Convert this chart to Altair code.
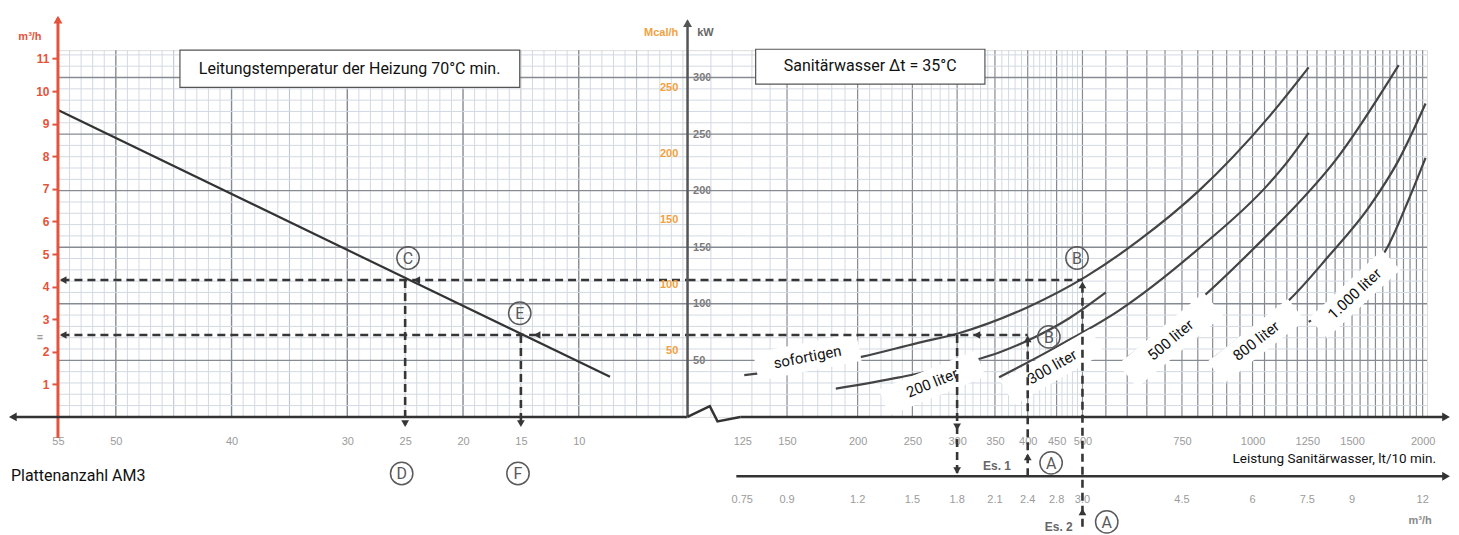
import altair as alt
import pandas as pd

# ---------------- axis tick values / labels ----------------
plate_ticks = [55, 50, 40, 30, 25, 20, 15, 10]
m3_ticks = [1, 2, 3, 4, 5, 6, 7, 8, 9, 10, 11]
kw_ticks = [50, 100, 150, 200, 250, 300]
mcal_ticks = [50, 100, 150, 200, 250]
lt_ticks = [125, 150, 200, 250, 300, 350, 400, 450, 500, 750, 1000, 1250, 1500, 2000]
m3h_tick_labels = ["0.75", "0.9", "1.2", "1.5", "1.8", "2.1", "2.4", "2.8", "3.0",
                   "4.5", "6", "7.5", "9", "12"]

# ---------------- left panel: heating flow vs. number of plates ----------------
heiz_plates = [55, 7.3]
heiz_m3h = [9.42, 1.23]

# ---------------- right panel: power curves (lt/10 min vs kW) ----------------
curve_names = ["sofortigen", "200 liter", "300 liter", "500 liter", "800 liter", "1.000 liter"]
sof_lt = [126, 158, 203, 254, 302, 400, 507, 629, 804, 1068, 1257]
sof_kw = [37, 43, 53, 65, 74, 97, 124, 156, 200, 265, 309]
l200_lt = [183, 237, 294, 356, 402, 473, 550]
l200_kw = [25, 35, 45, 57, 68, 87, 110]
l300_lt = [356, 454, 580, 804, 1068, 1159, 1257]
l300_kw = [35, 63, 94, 149, 206, 227, 251]
l500_lt = [599, 804, 1068, 1159, 1403, 1814]
l500_kw = [52, 103, 162, 180, 227, 311]
l800_lt = [854, 994, 1159, 1363, 1605, 1814, 2024]
l800_kw = [52, 77, 103, 142, 185, 227, 277]
l1000_lt = [1257, 1480, 1741, 1889, 2024]
l1000_kw = [84, 110, 152, 192, 229]

# ---------------- worked examples ----------------
ex_kw = [121, 72.4]        # power levels of B and B'
ex_plates = [25, 15]       # D and F
ex_lt = [300, 400, 500]

# ---------------- style ----------------
FONT = "Roboto"
AXFONT = "Liberation Sans"
RED = "#e4533b"
ORANGE = "#f2a13e"
DARK = "#363636"
MINC = "#d3d9e2"
MIDC = "#bac1cb"
MAJC = "#868b93"
CIRC = "#5a5a5a"
LEFT_W, RIGHT_W, H = 630, 740, 367

pS = alt.Scale(domain=[0.6, 55], reverse=True, nice=False, zero=False)
mS = alt.Scale(domain=[0, 11.26], nice=False, zero=False)
kS = alt.Scale(domain=[0, 324.2], nice=False, zero=False)
lS = alt.Scale(type="log", domain=[100, 2036], nice=False)

LXA = alt.Axis(values=plate_ticks, domain=False, ticks=False, grid=False, labelPadding=19,
               labelColor="#9b9b9b", labelFontSize=11, labelFont=AXFONT, title=None,
               labelFlush=False, labelOverlap=False)
REDA = alt.Axis(values=m3_ticks, domain=False, ticks=True, tickColor=RED, tickWidth=2, tickSize=6,
                labelColor=RED, labelFontWeight="bold", labelFontSize=12, labelPadding=3,
                labelFont=AXFONT, grid=False, title=None)
RXA = alt.Axis(values=lt_ticks, format="d", domain=False, ticks=False, grid=False, labelPadding=19,
               labelColor="#9b9b9b", labelFontSize=11, labelFont=AXFONT, title=None,
               labelFlush=False, labelOverlap=False)
RYA = alt.Axis(values=kw_ticks, domain=False, ticks=False, tickSize=0, grid=False, labelAlign="left",
               labelPadding=-5, labelColor="#7a7a7a", labelFontSize=11, labelFontWeight="bold",
               labelFont=AXFONT, title=None)


def PX(f):
    return alt.X(f, type="quantitative", scale=pS, axis=LXA)


def MY(f, axis=None):
    return alt.Y(f, type="quantitative", scale=mS, axis=axis)


def KY(f):
    return alt.Y(f, type="quantitative", scale=kS, axis=None)


def LX(f):
    return alt.X(f, type="quantitative", scale=lS, axis=RXA)


def RY(f):
    return alt.Y(f, type="quantitative", scale=kS, axis=RYA)


def D(**cols):
    return pd.DataFrame(cols)


# =============================== LEFT PANEL ===============================
plates_all = list(range(1, 56))
kw_all = list(range(10, 330, 10))

L = []
L.append(alt.Chart(D(p=[p for p in plates_all if p % 5])).mark_rule(color=MINC, strokeWidth=1).encode(x=PX("p")))
L.append(alt.Chart(D(p=[p for p in plates_all if p % 5 == 0 and p % 10])).mark_rule(color=MIDC, strokeWidth=1).encode(x=PX("p")))
L.append(alt.Chart(D(p=[p for p in plates_all if p % 10 == 0])).mark_rule(color=MAJC, strokeWidth=1.4).encode(x=PX("p")))
L.append(alt.Chart(D(k=[k for k in kw_all if k % 50])).mark_rule(color=MINC, strokeWidth=1).encode(y=KY("k")))
L.append(alt.Chart(D(k=kw_ticks)).mark_rule(color=MAJC, strokeWidth=1.4).encode(y=KY("k")))

# title box
L.append(alt.Chart(D(x=[44.46], x2=[15.1], y=[11.26], y2=[10.12])).mark_rect(
    fill="white", stroke="#555", strokeWidth=1.2).encode(x=PX("x"), x2="x2", y=MY("y"), y2="y2"))
L.append(alt.Chart(D(x=[29.8], y=[10.69], t=["Leitungstemperatur der Heizung 70°C min."])).mark_text(
    font=FONT, fontSize=16, color="#111").encode(x=PX("x"), y=MY("y"), text="t:N"))

# heating line (carries the red m3/h axis)
L.append(alt.Chart(D(p=heiz_plates, m=heiz_m3h)).mark_line(color="#333", strokeWidth=2.2).encode(
    x=PX("p"), y=MY("m", REDA)))

# red vertical axis with arrow
L.append(alt.Chart(D(x=[55], y=[-0.65], y2=[12.25])).mark_rule(color=RED, strokeWidth=3).encode(
    x=PX("x"), y=MY("y"), y2="y2"))
L.append(alt.Chart(D(x=[55], y=[12.2])).mark_point(shape="triangle-up", filled=True, size=80, color=RED,
                                                     opacity=1).encode(x=PX("x"), y=MY("y")))
L.append(alt.Chart(D(x=[57.42], y=[11.66], t=["m³/h"])).mark_text(
    font=AXFONT, fontSize=11, fontWeight="bold", color=RED).encode(x=PX("x"), y=MY("y"), text="t:N"))

# horizontal base axis with arrow to the left
L.append(alt.Chart(D(x=[58.7], x2=[0.6], y=[0])).mark_rule(color="#333", strokeWidth=2.5).encode(
    x=PX("x"), x2="x2", y=KY("y")))
L.append(alt.Chart(D(x=[58.9], y=[0])).mark_point(shape="triangle-left", filled=True, size=80, color="#333",
                                                    opacity=1).encode(x=PX("x"), y=KY("y")))

# dashed reading lines
L.append(alt.Chart(D(x=[54.7, 54.7], x2=[0.6, 0.6], y=ex_kw)).mark_rule(
    color=DARK, strokeWidth=2.6, strokeDash=[8, 5]).encode(x=PX("x"), x2="x2", y=KY("y")))
L.append(alt.Chart(D(x=ex_plates, y=ex_kw, y2=[-7, -7])).mark_rule(
    color=DARK, strokeWidth=2.6, strokeDash=[8, 5]).encode(x=PX("x"), y=KY("y"), y2="y2"))
L.append(alt.Chart(D(x=[24.0, 54.55, 13.6, 54.55], y=[121, 121, 72.4, 72.4])).mark_point(
    shape="triangle-left", filled=True, size=60, color=DARK, opacity=1).encode(x=PX("x"), y=KY("y")))
L.append(alt.Chart(D(x=ex_plates, y=[-6, -6])).mark_point(
    shape="triangle-down", filled=True, size=60, color=DARK, opacity=1).encode(x=PX("x"), y=KY("y")))
L.append(alt.Chart(D(x=[56.55], y=[70.7], t=["="])).mark_text(
    fontSize=12, fontWeight="bold", color="#9a9a9a").encode(x=PX("x"), y=KY("y"), text="t:N"))

# circled letters
circ_l = D(x=[24.75, 15.1, 25.3, 15.25], y=[140.5, 91.6, -50, -50], t=["C", "E", "D", "F"])
L.append(alt.Chart(circ_l).mark_point(shape="circle", filled=False, size=500, strokeWidth=1.5,
                                      color=CIRC, opacity=1).encode(x=PX("x"), y=KY("y")))
L.append(alt.Chart(circ_l).mark_text(fontSize=16, color=CIRC, font=FONT, dy=1).encode(
    x=PX("x"), y=KY("y"), text="t:N"))

L.append(alt.Chart(D(x=[59.06], y=[-52], t=["Plattenanzahl AM3"])).mark_text(
    font=FONT, fontSize=16, color="#111", align="left").encode(x=PX("x"), y=KY("y"), text="t:N"))

left = alt.layer(*L).properties(width=LEFT_W, height=H).resolve_scale(y="independent")

# =============================== RIGHT PANEL ===============================
lt_minor = [v for v in range(110, 500, 10) if v % 50]
lt_major = list(range(150, 2001, 50))

R = []
R.append(alt.Chart(D(x=lt_minor)).mark_rule(color=MINC, strokeWidth=1).encode(x=LX("x")))
R.append(alt.Chart(D(x=lt_major)).mark_rule(color=MAJC, strokeWidth=1.2).encode(x=LX("x")))
R.append(alt.Chart(D(k=[k for k in kw_all if k % 50])).mark_rule(color=MINC, strokeWidth=1).encode(y=RY("k")))
R.append(alt.Chart(D(k=kw_ticks)).mark_rule(color=MAJC, strokeWidth=1.4).encode(y=RY("k")))

# title box
R.append(alt.Chart(D(x=[132], x2=[336], y=[325], y2=[294.2])).mark_rect(
    fill="white", stroke="#555", strokeWidth=1.2).encode(x=LX("x"), x2="x2", y=RY("y"), y2="y2"))
R.append(alt.Chart(D(x=[210.5], y=[310.5], t=["Sanitärwasser Δt = 35°C"])).mark_text(
    font=FONT, fontSize=16, color="#111").encode(x=LX("x"), y=RY("y"), text="t:N"))

# curves
series = [sof_lt, l200_lt, l300_lt, l500_lt, l800_lt, l1000_lt]
values = [sof_kw, l200_kw, l300_kw, l500_kw, l800_kw, l1000_kw]
curves = pd.concat([pd.DataFrame({"name": n, "lt": a, "kw": b, "i": range(len(a))})
                    for n, a, b in zip(curve_names, series, values)], ignore_index=True)
R.append(alt.Chart(curves).mark_line(color="#444", strokeWidth=2.2, interpolate="monotone").encode(
    x=LX("lt"), y=RY("kw"), detail="name:N", order="i:Q"))

# curve labels on white rotated boxes
labels = D(t=curve_names,
           x=[163, 271, 442, 716, 1015, 1516],
           y=[53, 30, 44.2, 68, 67.1, 108.7],
           ang=[349, 338, 330, 320, 322, 317],
           box=[105 ** 2, 104 ** 2, 104 ** 2, 112 ** 2, 102 ** 2, 100 ** 2])
R.append(alt.Chart(labels).mark_point(shape="M-1,-0.27L1,-0.27L1,0.27L-1,0.27Z", filled=True,
                                      color="white", opacity=1, strokeWidth=0).encode(
    x=LX("x"), y=RY("y"), size=alt.Size("box:Q", scale=None), angle=alt.Angle("ang:Q", scale=None)))
R.append(alt.Chart(labels).mark_text(font=FONT, fontSize=15, color="#111").encode(
    x=LX("x"), y=RY("y"), text="t:N", angle=alt.Angle("ang:Q", scale=None)))

# dashed reading lines
R.append(alt.Chart(D(x=[100, 100], x2=[500, 400], y=ex_kw)).mark_rule(
    color=DARK, strokeWidth=2.6, strokeDash=[8, 5]).encode(x=LX("x"), x2="x2", y=RY("y")))
R.append(alt.Chart(D(x=ex_lt, y=[72.4, -52.5, -97], y2=[-52.5, 70, 121])).mark_rule(
    color=DARK, strokeWidth=2.6, strokeDash=[8, 5]).encode(x=LX("x"), y=RY("y"), y2="y2"))
R.append(alt.Chart(D(x=[325], y=[72.4])).mark_point(shape="triangle-left", filled=True, size=60,
                                                     color=DARK, opacity=1).encode(x=LX("x"), y=RY("y")))
R.append(alt.Chart(D(x=[300, 300], y=[-8.8, -47.5])).mark_point(shape="triangle-down", filled=True, size=60,
                                                                color=DARK, opacity=1).encode(x=LX("x"), y=RY("y")))
R.append(alt.Chart(D(x=[400, 400, 500, 500], y=[69, -35.3, 116.6, -84])).mark_point(
    shape="triangle-up", filled=True, size=60, color=DARK, opacity=1).encode(x=LX("x"), y=RY("y")))

# middle vertical axis with arrow
R.append(alt.Chart(D(x=[100], y=[0], y2=[350])).mark_rule(color="#555", strokeWidth=2.5).encode(
    x=LX("x"), y=RY("y"), y2="y2"))
R.append(alt.Chart(D(x=[100], y=[348])).mark_point(shape="triangle-up", filled=True, size=80, color="#555",
                                                    opacity=1).encode(x=LX("x"), y=RY("y")))

# base axis with break symbol and arrow
R.append(alt.Chart(D(x=[100, 109.5, 113, 124], y=[0, 9.5, -4, 0], i=[0, 1, 2, 3])).mark_line(
    color="#333", strokeWidth=2.5).encode(x=LX("x"), y=RY("y"), order="i:Q"))
R.append(alt.Chart(D(x=[124, 122], x2=[2200, 2200], y=[0, -52.5])).mark_rule(color="#333", strokeWidth=2.5).encode(
    x=LX("x"), x2="x2", y=RY("y")))
R.append(alt.Chart(D(x=[2200, 2200], y=[0, -52.5])).mark_point(shape="triangle-right", filled=True, size=80,
                                                               color="#333", opacity=1).encode(x=LX("x"), y=RY("y")))

# secondary m3/h scale labels
R.append(alt.Chart(D(x=lt_ticks, y=[-73.3] * len(lt_ticks), t=m3h_tick_labels)).mark_text(
    font=AXFONT, fontSize=11, color="#9b9b9b").encode(x=LX("x"), y=RY("y"), text="t:N"))
R.append(alt.Chart(D(x=[1980], y=[-92], t=["m³/h"])).mark_text(
    font=AXFONT, fontSize=11, color="#8a8a8a", fontWeight="bold").encode(x=LX("x"), y=RY("y"), text="t:N"))
R.append(alt.Chart(D(x=[2113], y=[-37.1], t=["Leistung Sanitärwasser, lt/10 min."])).mark_text(
    font=FONT, fontSize=13.5, color="#111", align="right").encode(x=LX("x"), y=RY("y"), text="t:N"))

# examples
R.append(alt.Chart(D(x=[353, 454], y=[-43.3, -97.2], t=["Es. 1", "Es. 2"])).mark_text(
    font=AXFONT, fontSize=12, fontWeight="bold", color="#666").encode(x=LX("x"), y=RY("y"), text="t:N"))
circ_r = D(x=[440, 552, 489, 436], y=[-40.6, -92.8, 140.5, 70.7], t=["A", "A", "B", "B"])
R.append(alt.Chart(circ_r).mark_point(shape="circle", filled=False, size=500, strokeWidth=1.5,
                                      color=CIRC, opacity=1).encode(x=LX("x"), y=RY("y")))
R.append(alt.Chart(circ_r).mark_text(fontSize=16, color=CIRC, font=FONT, dy=1).encode(
    x=LX("x"), y=RY("y"), text="t:N"))

# Mcal/h scale (orange) and axis titles
R.append(alt.Chart(D(m=mcal_ticks, x=[96.3] * len(mcal_ticks))).transform_calculate(
    k="datum.m * 1.163").mark_text(font=AXFONT, fontSize=11, fontWeight="bold", color=ORANGE,
                                   align="right").encode(x=LX("x"), y=RY("k:Q"), text="m:Q"))
R.append(alt.Chart(D(x=[96.3], y=[339], t=["Mcal/h"])).mark_text(
    font=AXFONT, fontSize=11, fontWeight="bold", color=ORANGE, align="right").encode(
    x=LX("x"), y=RY("y"), text="t:N"))
R.append(alt.Chart(D(x=[104], y=[339], t=["kW"])).mark_text(
    font=AXFONT, fontSize=11, fontWeight="bold", color="#666", align="left").encode(
    x=LX("x"), y=RY("y"), text="t:N"))

right = alt.layer(*R).properties(width=RIGHT_W, height=H)

chart = alt.hconcat(left, right, spacing=0, bounds="flush").properties(
    padding={"left": 0, "top": 6, "right": 0, "bottom": 0}
).configure_view(stroke=None).configure(font=FONT)

chart.save("out.html", embed_options={"renderer": "svg", "actions": False})
